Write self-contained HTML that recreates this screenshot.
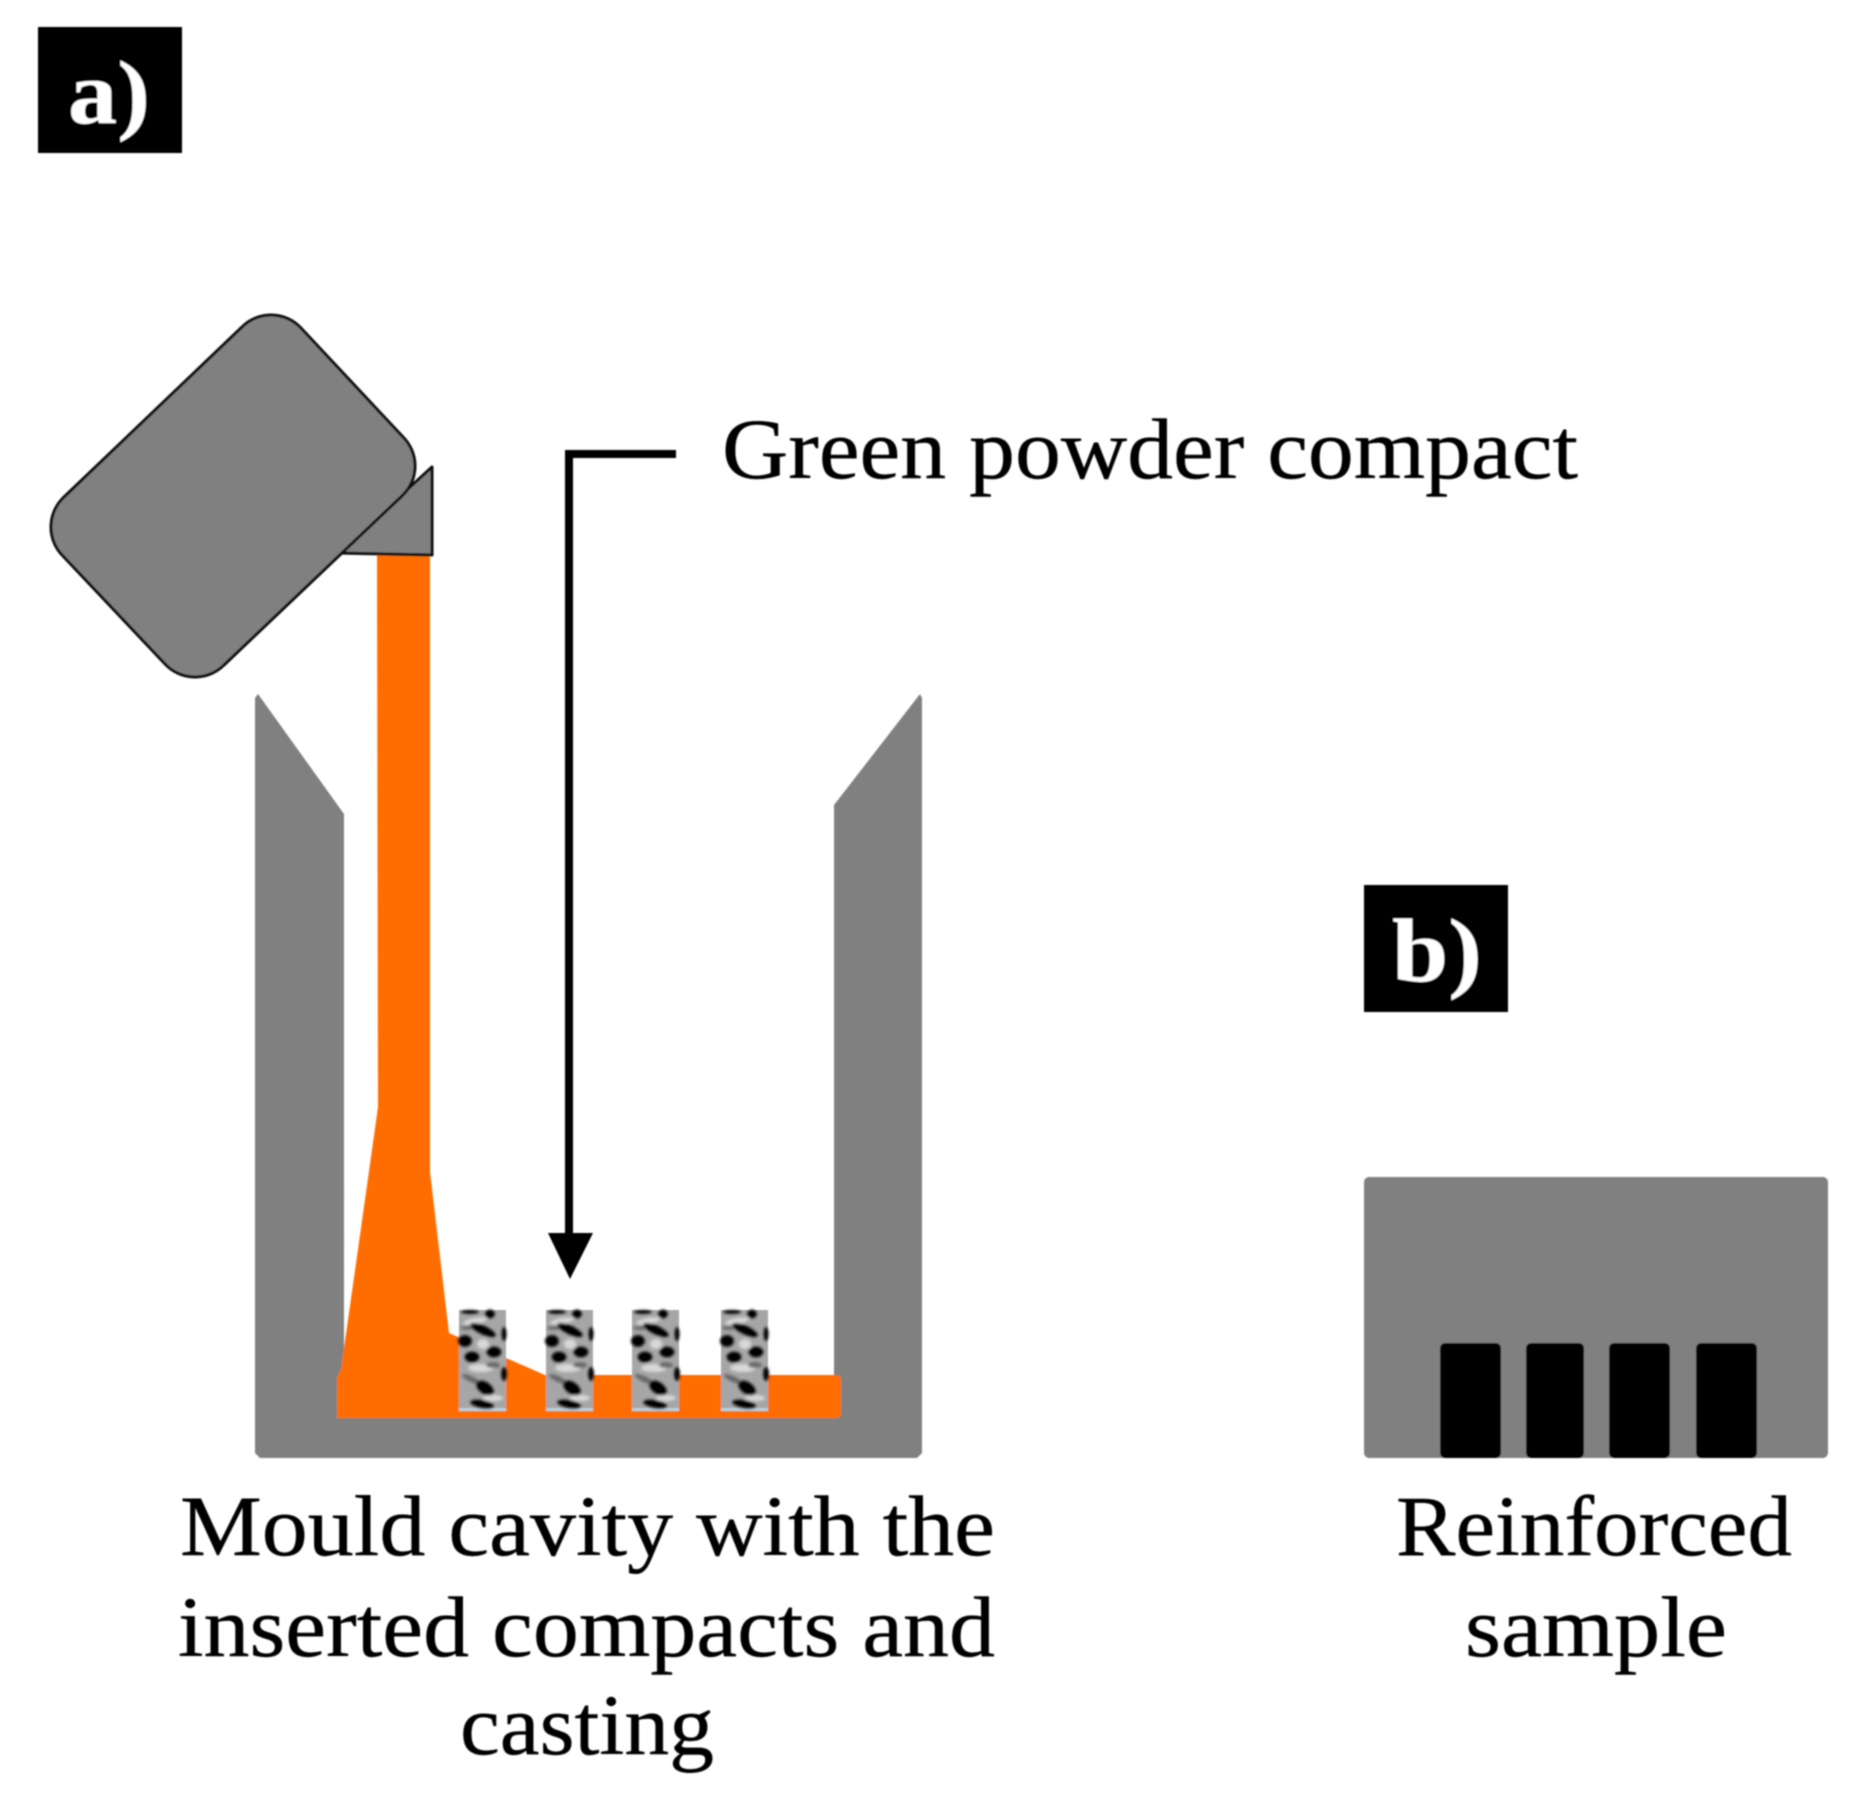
<!DOCTYPE html>
<html><head><meta charset="utf-8"><style>
html,body{margin:0;padding:0;background:#fff}
svg{display:block}
text{font-family:"Liberation Serif",serif}
</style></head><body>
<svg xmlns="http://www.w3.org/2000/svg" width="1863" height="1800" viewBox="0 0 1863 1800">
<defs>
<filter id="b" x="-5%" y="-5%" width="110%" height="110%"><feGaussianBlur stdDeviation="0.9"/></filter>
<filter id="b2" x="-20%" y="-20%" width="140%" height="140%"><feGaussianBlur stdDeviation="1.3"/></filter>
<g id="c">
<rect width="47" height="101" fill="#a6a6a6"/>
<rect y="98" width="47" height="3" fill="#b4cfdc"/>
<g filter="url(#b2)">
<g fill="#d8d8d8"><ellipse cx="16" cy="11" rx="12" ry="3" transform="rotate(-10 16 11)"/><ellipse cx="22" cy="58" rx="13" ry="4"/><ellipse cx="34" cy="88" rx="10" ry="3"/><ellipse cx="24" cy="34" rx="6" ry="5"/></g>
<g fill="#6a6a6a"><ellipse cx="12" cy="69" rx="10" ry="3" transform="rotate(25 12 69)"/><ellipse cx="34" cy="55" rx="7" ry="3"/><ellipse cx="8" cy="18" rx="7" ry="2"/></g>
<g fill="#000">
<ellipse cx="31" cy="4" rx="5" ry="4.5"/><ellipse cx="11" cy="2" rx="9" ry="2"/><ellipse cx="24" cy="20" rx="14" ry="4.5" transform="rotate(25 24 20)"/><ellipse cx="45" cy="24" rx="2.5" ry="7"/><ellipse cx="6" cy="31" rx="7" ry="6"/><ellipse cx="35" cy="42" rx="7.5" ry="5.5"/><ellipse cx="13" cy="47" rx="7.5" ry="5.5"/><ellipse cx="45" cy="64" rx="3" ry="7"/><ellipse cx="26" cy="78" rx="10" ry="6" transform="rotate(35 26 78)"/><ellipse cx="23" cy="94" rx="12" ry="4" transform="rotate(10 23 94)"/>
</g></g>
</g>
</defs>
<g filter="url(#b)">
<rect x="38" y="27" width="144" height="126" fill="#000"/>
<text x="68" y="123" font-size="90" font-weight="700" fill="#fff" textLength="82" lengthAdjust="spacingAndGlyphs">a)</text>
<rect x="1364" y="885" width="144" height="127" fill="#000"/>
<text x="1392" y="981" font-size="90" font-weight="700" fill="#fff" textLength="90" lengthAdjust="spacingAndGlyphs">b)</text>

<polygon points="255,698 258,694 344,814 344,1400 834,1400 834,805 920,694 922,698 922,1453 917,1458 260,1458 255,1453" fill="#808080"/>

<path d="M377,555 H430 V1172 L449,1333 L545,1375 H836 Q841,1375 841,1380 V1413 Q841,1418 836,1418 H337 V1377 L341,1369 Q358,1250 378,1107 Z" fill="#ff6d00"/>

<polygon points="338,553 432,467 432,555" fill="#808080" stroke="#111" stroke-width="3" stroke-linejoin="round"/>
<path d="M242,327 A41,41 0 0 1 300,327 L403,437 A41,41 0 0 1 403,495 L224,665 A41,41 0 0 1 166,665 L63,556 A41,41 0 0 1 63,498 Z" fill="#808080" stroke="#111" stroke-width="3"/>

<path d="M676,454 H569 V1238" fill="none" stroke="#000" stroke-width="8"/>
<polygon points="548,1233 593,1233 570,1279" fill="#000"/>

<use href="#c" x="459" y="1310"/>
<use href="#c" x="546" y="1310"/>
<use href="#c" x="632" y="1310"/>
<use href="#c" x="721" y="1310"/>

<rect x="1364" y="1177" width="464" height="281" rx="5" fill="#808080"/>
<path d="M1440,1458 V1349 Q1440,1343 1446,1343 H1495 Q1501,1343 1501,1349 V1452 Q1501,1458 1495,1458 H1446 Q1440,1458 1440,1452 Z" fill="#000"/>
<path d="M1526,1458 V1349 Q1526,1343 1532,1343 H1578 Q1584,1343 1584,1349 V1452 Q1584,1458 1578,1458 H1532 Q1526,1458 1526,1452 Z" fill="#000"/>
<path d="M1609,1458 V1349 Q1609,1343 1615,1343 H1664 Q1670,1343 1670,1349 V1452 Q1670,1458 1664,1458 H1615 Q1609,1458 1609,1452 Z" fill="#000"/>
<path d="M1696,1458 V1349 Q1696,1343 1702,1343 H1751 Q1757,1343 1757,1349 V1452 Q1757,1458 1751,1458 H1702 Q1696,1458 1696,1452 Z" fill="#000"/>

<g fill="#000" font-size="86" stroke="#000" stroke-width="0.4">
<text x="722" y="478" textLength="856" lengthAdjust="spacingAndGlyphs">Green powder compact</text>
<text x="180" y="1555" textLength="815" lengthAdjust="spacingAndGlyphs">Mould cavity with the</text>
<text x="178" y="1656" textLength="817" lengthAdjust="spacingAndGlyphs">inserted compacts and</text>
<text x="460" y="1754" textLength="254" lengthAdjust="spacingAndGlyphs">casting</text>
<text x="1396" y="1555" textLength="396" lengthAdjust="spacingAndGlyphs">Reinforced</text>
<text x="1465" y="1656" textLength="262" lengthAdjust="spacingAndGlyphs">sample</text>
</g>
</g>
</svg>
</body></html>
